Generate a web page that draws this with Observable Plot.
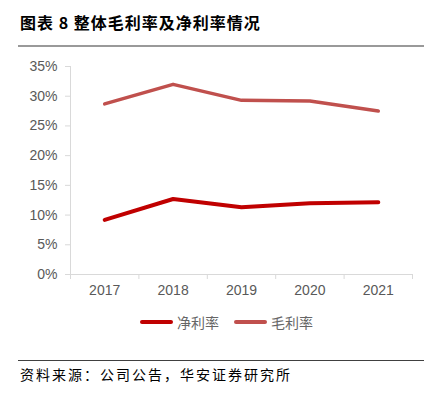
<!DOCTYPE html>
<html><head><meta charset="utf-8">
<script src="https://cdn.jsdelivr.net/npm/d3@7"></script>
<script src="https://cdn.jsdelivr.net/npm/@observablehq/plot@0.6"></script>
<style>
body{margin:0;background:#fff;width:424px;height:397px;position:relative;overflow:hidden;font-family:"Noto Sans CJK SC","Noto Sans",sans-serif;}
#title{position:absolute;left:20px;top:10px;font-size:16px;font-weight:bold;color:#000;letter-spacing:1px;}
#tline{position:absolute;left:18px;top:45px;width:406px;height:2px;background:#999;}
#chart{position:absolute;left:0;top:50px;}
#legend{position:absolute;left:140px;top:312px;font-size:14px;color:#666;display:flex;align-items:center;}
.sw{display:inline-block;width:33px;height:4px;border-radius:2px;margin-right:4px;}
.item{display:flex;align-items:center;margin-right:15px;}
#fline{position:absolute;left:18px;top:360px;width:406px;height:1px;background:#404040;}
#source{position:absolute;left:20px;top:364px;font-size:14px;color:#000;letter-spacing:2px;}
</style></head>
<body>
<div id="title">图表 8 整体毛利率及净利率情况</div>
<div id="tline"></div>
<div id="chart"></div>
<div id="legend"></div>
<div id="fline"></div>
<div id="source">资料来源：公司公告，华安证券研究所</div>
<script>
const years = [2017, 2018, 2019, 2020, 2021];
const netMargin = [0.092, 0.127, 0.113, 0.120, 0.1215];
const grossMargin = [0.287, 0.320, 0.293, 0.292, 0.275];
const seriesNames = ["净利率", "毛利率"];
const seriesColors = ["#C00000", "#C0504D"];
const seriesWidths = [4, 3.5];
const yTicks = [0, 0.05, 0.10, 0.15, 0.20, 0.25, 0.30, 0.35];

const net = years.map((y, i) => ({year: y, value: netMargin[i]}));
const gross = years.map((y, i) => ({year: y, value: grossMargin[i]}));
const boundaries = d3.range(years[0] - 0.5, years[years.length - 1] + 1, 1);

const plot = Plot.plot({
  width: 424, height: 260,
  marginLeft: 70, marginRight: 12, marginTop: 16, marginBottom: 36,
  style: {fontFamily: "'Liberation Sans', Arial, sans-serif", fontSize: "14px", color: "#595959", background: "transparent"},
  x: {domain: [years[0] - 0.5, years[years.length - 1] + 0.5]},
  y: {domain: [0, 0.35]},
  marks: [
    Plot.ruleY([0], {stroke: "#d9d9d9", strokeWidth: 1}),
    Plot.ruleX([boundaries[0]], {stroke: "#d9d9d9", strokeWidth: 1}),
    Plot.axisY({ticks: yTicks, tickFormat: d3.format(".0%"), tickSize: 5, tickPadding: 8, stroke: "#d9d9d9", fill: "#595959", label: null}),
    Plot.axisX({ticks: boundaries, tickFormat: () => "", tickSize: 5, stroke: "#d9d9d9", label: null}),
    Plot.axisX({ticks: years, tickFormat: d3.format("d"), tickSize: 0, tickPadding: 11, fill: "#595959", label: null}),
    Plot.line(gross, {x: "year", y: "value", stroke: seriesColors[1], strokeWidth: seriesWidths[1], strokeLinecap: "round", strokeLinejoin: "round"}),
    Plot.line(net, {x: "year", y: "value", stroke: seriesColors[0], strokeWidth: seriesWidths[0], strokeLinecap: "round", strokeLinejoin: "round"})
  ]
});
document.getElementById("chart").appendChild(plot);

const legend = document.getElementById("legend");
seriesNames.forEach((n, i) => {
  const it = document.createElement("div");
  it.className = "item";
  it.innerHTML = `<span class="sw" style="background:${seriesColors[i]}"></span><span>${n}</span>`;
  legend.appendChild(it);
});
</script>
</body></html>
